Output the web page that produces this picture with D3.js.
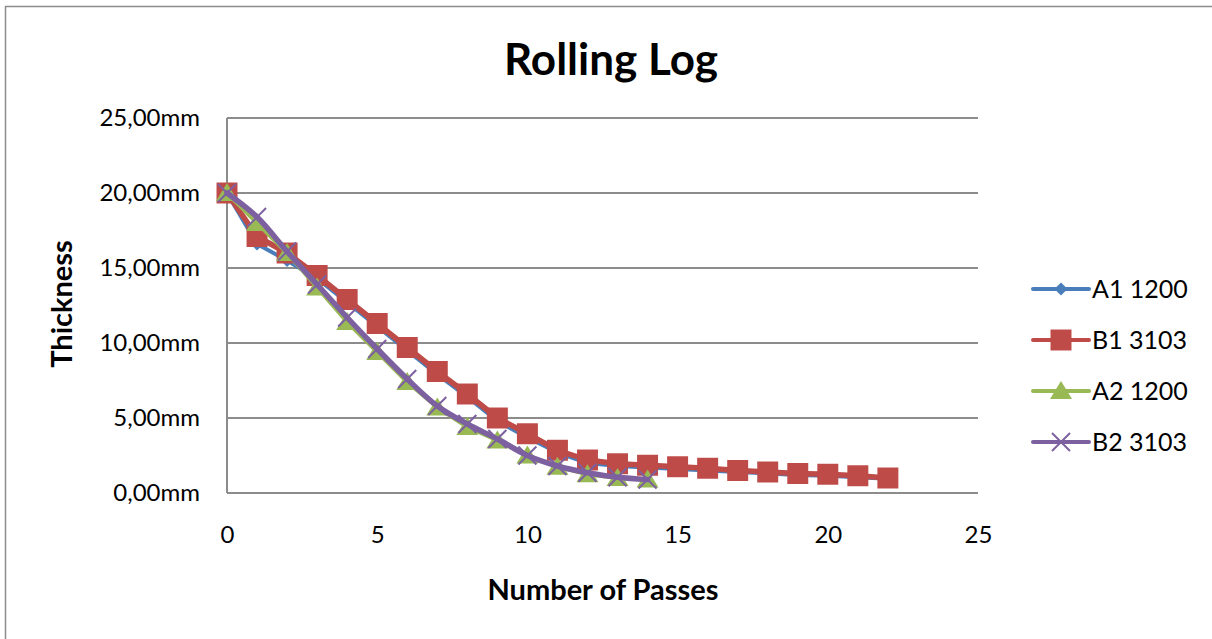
<!DOCTYPE html>
<html>
<head>
<meta charset="utf-8">
<script src="https://cdn.jsdelivr.net/npm/d3@7"></script>
<style>
  body { margin: 0; background: #fff; }
  svg { display: block; font-family: Lato, "Open Sans", sans-serif; }
</style>
</head>
<body>
<div id="chart"></div>
<script>
// passes (x values) and thickness readings in mm
var passesLong = d3.range(0, 23);
var passesShort = d3.range(0, 15);

var a1 = [20.0, 16.6, 15.5, 14.3, 12.7, 11.1, 9.5, 7.9, 6.4, 4.8, 3.7, 2.7, 2.0, 1.8, 1.7, 1.6, 1.5, 1.4, 1.3, 1.2, 1.15, 1.05, 0.95];
var b1 = [20.0, 17.1, 16.0, 14.5, 12.9, 11.3, 9.7, 8.1, 6.6, 5.0, 3.95, 2.85, 2.2, 1.95, 1.85, 1.75, 1.65, 1.5, 1.4, 1.3, 1.25, 1.15, 1.0];
var a2 = [20.0, 18.0, 16.0, 13.7, 11.4, 9.4, 7.4, 5.7, 4.4, 3.5, 2.5, 1.75, 1.25, 1.0, 0.9];
var b2 = [20.0, 18.4, 16.1, 13.9, 11.7, 9.6, 7.6, 5.8, 4.6, 3.6, 2.5, 1.8, 1.35, 1.05, 0.9];

var seriesNames = ["A1 1200", "B1 3103", "A2 1200", "B2 3103"];
var xTicks = [0, 5, 10, 15, 20, 25];
var yTicks = [0, 5, 10, 15, 20, 25];

var series = [
    {name: seriesNames[0], x: passesLong, y: a1, color: "#4a7ebb", marker: "diamond", smooth: false, width: 4},
    {name: seriesNames[1], x: passesLong, y: b1, color: "#be4b48", marker: "square", smooth: false, width: 5.5},
    {name: seriesNames[2], x: passesShort, y: a2, color: "#98b954", marker: "triangle", smooth: false, width: 4},
    {name: seriesNames[3], x: passesShort, y: b2, color: "#7d60a0", marker: "cross", smooth: true, width: 5.5}
];

var width = 1212, height = 639;
var margin = {top: 118, left: 227, right: 234, bottom: 146};

var svg = d3.select("#chart").append("svg")
    .attr("width", width)
    .attr("height", height);

// outer chart border
svg.append("rect")
    .attr("x", 5.5).attr("y", 6.5)
    .attr("width", width).attr("height", height)
    .attr("fill", "none")
    .attr("stroke", "#8c8c8c")
    .attr("stroke-width", 1.5);

var x = d3.scaleLinear().domain([0, 25]).range([margin.left, width - margin.right]);
var y = d3.scaleLinear().domain([0, 25]).range([height - margin.bottom, margin.top]);

// gridlines
svg.append("g").selectAll("line")
    .data(yTicks)
    .enter().append("line")
    .attr("x1", x(0)).attr("x2", x(25))
    .attr("y1", function (d) { return y(d); })
    .attr("y2", function (d) { return y(d); })
    .attr("stroke", "#8c8c8c")
    .attr("stroke-width", 2);

// y axis line
svg.append("line")
    .attr("x1", x(0)).attr("x2", x(0))
    .attr("y1", y(0)).attr("y2", y(25))
    .attr("stroke", "#8c8c8c")
    .attr("stroke-width", 2);

var fmt = function (d) { return d3.format(".2f")(d).replace(".", ",") + "mm"; };

var yAxis = d3.axisLeft(y).tickValues(yTicks).tickSize(0).tickPadding(27).tickFormat(fmt);
var yg = svg.append("g").attr("transform", "translate(" + x(0) + ",0)").call(yAxis);
yg.select(".domain").remove();
yg.selectAll("text").attr("font-size", 24).attr("fill", "#000").attr("font-family", "Lato, sans-serif");

var xAxis = d3.axisBottom(x).tickValues(xTicks).tickSize(0).tickPadding(33);
var xg = svg.append("g").attr("transform", "translate(0," + y(0) + ")").call(xAxis);
xg.select(".domain").remove();
xg.selectAll("text").attr("font-size", 24).attr("fill", "#000").attr("font-family", "Lato, sans-serif");

// titles
svg.append("text")
    .attr("x", 611).attr("y", 75)
    .attr("text-anchor", "middle")
    .attr("font-size", 44)
    .attr("font-weight", "bold")
    .text("Rolling Log");

svg.append("text")
    .attr("x", 603).attr("y", 600)
    .attr("text-anchor", "middle")
    .attr("font-size", 29)
    .attr("font-weight", "bold")
    .text("Number of Passes");

svg.append("text")
    .attr("transform", "translate(72,304) rotate(-90)")
    .attr("text-anchor", "middle")
    .attr("font-size", 29)
    .attr("font-weight", "bold")
    .text("Thickness");

function markerPath(type) {
    if (type === "diamond") return d3.symbol(d3.symbolDiamond2, 110)();
    if (type === "square") return d3.symbol(d3.symbolSquare, 440)();
    if (type === "triangle") return "M0,-10L11,8L-11,8Z";
    return "M-9,-9L9,9M-9,9L9,-9";
}

function drawMarkers(g, s, pts) {
    g.selectAll("path.mk")
        .data(pts)
        .enter().append("path")
        .attr("class", "mk")
        .attr("transform", function (d) { return "translate(" + d[0] + "," + d[1] + ")"; })
        .attr("d", markerPath(s.marker))
        .attr("fill", s.marker === "cross" ? "none" : s.color)
        .attr("stroke", s.color)
        .attr("stroke-width", s.marker === "cross" ? 2 : 0);
}

var lineGen = d3.line();

series.forEach(function (s) {
    var g = svg.append("g");
    var pts = s.x.map(function (d, i) { return [x(d), y(s.y[i])]; });
    lineGen.curve(s.smooth ? d3.curveCatmullRom.alpha(0.5) : d3.curveLinear);
    if (s.smooth) {
        // markers under the smoothed line
        drawMarkers(g, s, pts);
    }
    g.append("path")
        .attr("d", lineGen(pts))
        .attr("fill", "none")
        .attr("stroke", s.color)
        .attr("stroke-width", s.width)
        .attr("stroke-linejoin", "round")
        .attr("stroke-linecap", "round");
    if (!s.smooth) drawMarkers(g, s, pts);
});

// legend
var legend = svg.append("g").selectAll("g")
    .data(series)
    .enter().append("g")
    .attr("transform", function (d, i) { return "translate(1033," + (289 + i * 51) + ")"; });

legend.append("line")
    .attr("x1", 0).attr("x2", 56)
    .attr("stroke", function (d) { return d.color; })
    .attr("stroke-width", 4)
    .attr("stroke-linecap", "round");

legend.append("path")
    .attr("transform", "translate(28,0)")
    .attr("d", function (d) { return markerPath(d.marker); })
    .attr("fill", function (d) { return d.marker === "cross" ? "none" : d.color; })
    .attr("stroke", function (d) { return d.color; })
    .attr("stroke-width", function (d) { return d.marker === "cross" ? 2 : 0; });

legend.append("text")
    .attr("x", 59).attr("y", 9)
    .attr("font-size", 25)
    .text(function (d) { return d.name; });
</script>
</body>
</html>
